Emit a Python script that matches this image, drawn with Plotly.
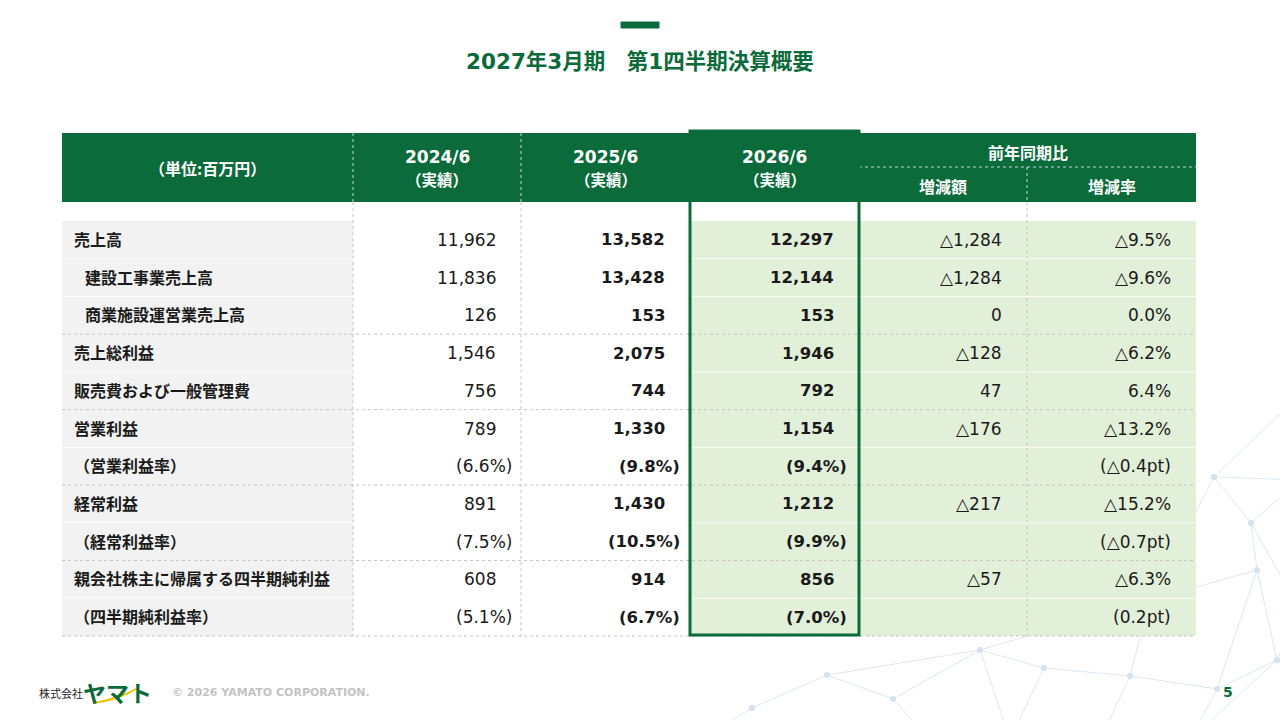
#%%
import plotly.graph_objects as go

#%% table data (millions of yen)
row_labels = ["売上高", "建設工事業売上高", "商業施設運営業売上高", "売上総利益", "販売費および一般管理費",
              "営業利益", "（営業利益率）", "経常利益", "（経常利益率）",
              "親会社株主に帰属する四半期純利益", "（四半期純利益率）"]
row_indent = [0, 1, 1, 0, 0, 0, 0, 0, 0, 0, 0]
row_kind = ["amt", "amt", "amt", "amt", "amt", "amt", "pct", "amt", "pct", "amt", "pct"]
group_end = [2, 4, 6, 8, 10]

fy2024 = [11962, 11836, 126, 1546, 756, 789, 6.6, 891, 7.5, 608, 5.1]
fy2025 = [13582, 13428, 153, 2075, 744, 1330, 9.8, 1430, 10.5, 914, 6.7]
fy2026 = [12297, 12144, 153, 1946, 792, 1154, 9.4, 1212, 9.9, 856, 7.0]
chg_amt = [-1284, -1284, 0, -128, 47, -176, None, -217, None, -57, None]
chg_rate = [-9.5, -9.6, 0.0, -6.2, 6.4, -13.2, -0.4, -15.2, -0.7, -6.3, 0.2]

col_titles = ["2024/6", "2025/6", "2026/6"]
col_sub = "（実績）"
unit_label = "（単位:百万円）"
yoy_label = "前年同期比"
yoy_sub = ["増減額", "増減率"]

title = "2027年3月期　第1四半期決算概要"
copyright_txt = "© 2026 YAMATO CORPORATION."
page_no = "5"

#%% layout constants
GREEN = "#0b6b3a"
LIGHT_GREEN = "#e2efd9"
GRAY_BG = "#f2f2f2"
JP = "Noto Sans CJK JP"
NUM = "DejaVu Sans, Noto Sans CJK JP"
col_edges = [62, 353, 521, 690, 859, 1027, 1196]
HEAD_TOP, HEAD_MID, HEAD_BOT = 133, 167, 202
ROW_TOP, ROW_BOT = 221, 636
ROW_H = (ROW_BOT - ROW_TOP) / len(row_labels)
num_right = [498, 667, 836, 1004, 1173]
pct_right = [514, 682, 849, None, 1173]


def fmt_amt(v):
    if v is None:
        return ""
    return ("△" if v < 0 else "") + f"{abs(v):,}"


def fmt_pct(v):
    return f"({v:.1f}%)"


def fmt_rate(v, kind):
    s = ("△" if v < 0 else "") + f"{abs(v):.1f}"
    return f"({s}pt)" if kind == "pct" else s + "%"


shapes = []
ann = []


def rect(x0, y0, x1, y1, fill, layer="below"):
    shapes.append(dict(type="rect", x0=x0, y0=y0, x1=x1, y1=y1, fillcolor=fill,
                       line=dict(width=0), layer=layer))


def line(x0, y0, x1, y1, color, width=1, dash="solid"):
    shapes.append(dict(type="line", x0=x0, y0=y0, x1=x1, y1=y1, layer="above",
                       line=dict(color=color, width=width, dash=dash)))


def text(x, y, s, size=16, color="#1a1a1a", bold=False, anchor="left", family=JP):
    ann.append(dict(x=x, y=y, text=f"<b>{s}</b>" if bold else s, showarrow=False,
                    xanchor=anchor, yanchor="middle",
                    font=dict(family=family, size=size, color=color)))


#%% background decoration (faint network, bottom right)
deco_nodes = {"A": (1214, 477), "B": (1251, 523), "C": (1257, 570), "D": (1277, 660),
              "E": (980, 650), "F": (827, 675), "G": (893, 699), "H": (752, 708),
              "I": (1044, 668), "J": (1130, 676), "K": (1217, 689), "L": (1300, 395),
              "M": (1300, 480), "N": (1150, 600), "O": (1300, 610), "P": (700, 740),
              "Q": (930, 740), "R": (1010, 740), "S": (1100, 740), "T": (1190, 740)}
deco_edges = ["AL", "AM", "AB", "AN", "BC", "BM", "BO", "CD", "CK", "CN", "DK", "DO",
              "KJ", "JI", "JS", "IE", "EG", "EF", "FG", "FH", "HP", "GQ", "ER", "IR",
              "KT", "JN", "NE", "DT"]
for e in deco_edges:
    (x0, y0), (x1, y1) = deco_nodes[e[0]], deco_nodes[e[1]]
    shapes.append(dict(type="line", x0=x0, y0=y0, x1=x1, y1=y1, layer="below",
                       line=dict(color="#dde8f1", width=1)))
for k, (x, y) in deco_nodes.items():
    shapes.append(dict(type="circle", x0=x - 3, y0=y - 3, x1=x + 3, y1=y + 3,
                       fillcolor="#d3e2ee", line=dict(width=0), layer="below"))

#%% header
shapes.append(dict(type="rect", x0=621, y0=22, x1=659, y1=28, fillcolor=GREEN,
                   line=dict(color=GREEN, width=1), layer="above"))
text(640, 61, title, size=21.5, color=GREEN, bold=True, anchor="center", family=NUM)

rect(col_edges[0], HEAD_TOP, col_edges[-1], HEAD_BOT, GREEN)
rect(col_edges[3], 130, col_edges[4], HEAD_BOT, GREEN)
text((col_edges[0] + col_edges[1]) / 2, 168, unit_label, size=16, color="white", bold=True, anchor="center")
for i, t in enumerate(col_titles):
    cx = (col_edges[i + 1] + col_edges[i + 2]) / 2
    text(cx, 157, t, size=17, color="white", bold=True, anchor="center", family=NUM)
    text(cx, 178.5, col_sub, size=15.5, color="white", bold=True, anchor="center")
text((col_edges[4] + col_edges[6]) / 2, 152, yoy_label, size=16, color="white", bold=True, anchor="center")
for j, t in enumerate(yoy_sub):
    text((col_edges[4 + j] + col_edges[5 + j]) / 2, 186, t, size=16, color="white", bold=True, anchor="center")
HEAD_DOT = "rgba(255,255,255,0.75)"
line(col_edges[4], HEAD_MID, col_edges[6], HEAD_MID, HEAD_DOT, 1, "dot")
line(col_edges[5], HEAD_MID, col_edges[5], HEAD_BOT, HEAD_DOT, 1, "dot")
for x in col_edges[1:3]:
    line(x, HEAD_TOP, x, HEAD_BOT, HEAD_DOT, 1, "dot")

#%% body backgrounds
rect(col_edges[0], ROW_TOP, col_edges[1], ROW_BOT, GRAY_BG)
rect(col_edges[3], ROW_TOP, col_edges[6], ROW_BOT, LIGHT_GREEN)
rect(col_edges[3], HEAD_BOT, col_edges[4], ROW_TOP, "white")

DOT_GRAY = "#c4c4c4"
for x in [col_edges[1], col_edges[2], col_edges[5]]:
    line(x, HEAD_BOT, x, ROW_BOT, DOT_GRAY, 1, "dot")

for i in range(len(row_labels)):
    yb = ROW_TOP + (i + 1) * ROW_H
    if i in group_end:
        line(col_edges[0], yb, col_edges[6], yb, DOT_GRAY, 1, "dot")
    else:
        line(col_edges[0], yb, col_edges[6], yb, "rgba(255,255,255,0.8)", 1)

#%% body text
cols = [fy2024, fy2025, fy2026]
for i, lab in enumerate(row_labels):
    y = ROW_TOP + (i + 0.5) * ROW_H
    kind = row_kind[i]
    text(col_edges[0] + 10 + 11 * row_indent[i], y - 1, lab, size=16, bold=True)
    for c, vals in enumerate(cols):
        v = vals[i]
        sz = 16.5 if c > 0 else 17
        if kind == "pct":
            text(pct_right[c], y, fmt_pct(v), size=sz, bold=c > 0, anchor="right", family=NUM)
        else:
            text(num_right[c], y, fmt_amt(v), size=sz, bold=c > 0, anchor="right", family=NUM)
    if chg_amt[i] is not None:
        text(num_right[3], y, fmt_amt(chg_amt[i]), size=17, anchor="right", family=NUM)
    text(num_right[4], y, fmt_rate(chg_rate[i], kind), size=17, anchor="right", family=NUM)

#%% highlight box for current period
shapes.append(dict(type="rect", x0=col_edges[3], y0=131, x1=col_edges[4], y1=ROW_BOT - 1,
                   fillcolor="rgba(0,0,0,0)", line=dict(color=GREEN, width=3), layer="above"))

#%% footer
text(37, 693, "株式会社", size=11, color="#222222")
text(81, 692, "ヤマト", size=23, color=GREEN, bold=True)
shapes.append(dict(type="path", path="M 94 703 Q 118 700 138 688 Q 120 698 94 703 Z",
                   fillcolor="#f2c200", line=dict(color="#f2c200", width=1.5), layer="above"))
text(170, 692, copyright_txt, size=11, color="#c3c3c3", bold=True, family=NUM)
text(1228, 692, page_no, size=14, color=GREEN, bold=True, anchor="center", family=NUM)

#%% figure
fig = go.Figure()
fig.update_layout(
    width=1280, height=720,
    margin=dict(l=0, r=0, t=0, b=0),
    paper_bgcolor="white", plot_bgcolor="white",
    xaxis=dict(range=[0, 1280], visible=False, fixedrange=True),
    yaxis=dict(range=[720, 0], visible=False, fixedrange=True),
    shapes=shapes, annotations=ann, showlegend=False,
)
fig.write_html("out.html", config={"displayModeBar": False},
               post_script="document.body.style.margin='0px';")
